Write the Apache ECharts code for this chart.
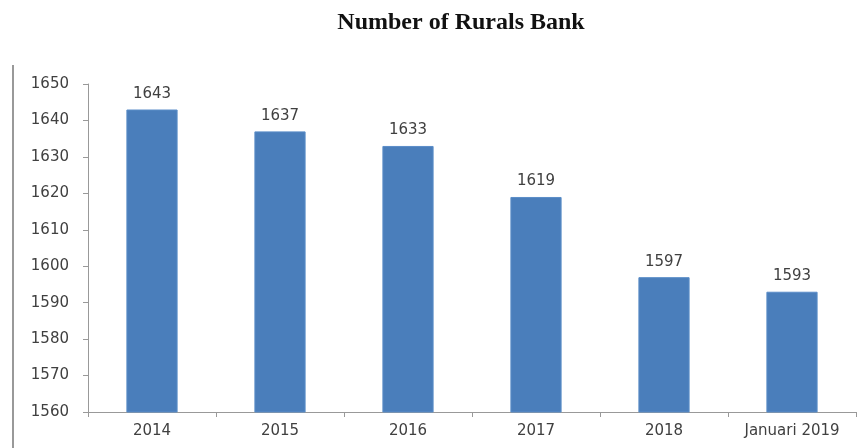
<!DOCTYPE html>
<html>
<head>
<meta charset="utf-8">
<script src="https://cdn.jsdelivr.net/npm/echarts@6/dist/echarts.min.js"></script>
<style>
html,body{margin:0;padding:0;background:#fff;}
#chart{width:865px;height:448px;}
</style>
</head>
<body>
<div id="chart"></div>
<script>
const titleText = 'Number of Rurals Bank';
const categories = ['2014', '2015', '2016', '2017', '2018', 'Januari 2019'];
const banks = [1643, 1637, 1633, 1619, 1597, 1593];
const yMin = 1560, yMax = 1650, yStep = 10;

const chart = echarts.init(document.getElementById('chart'));
chart.setOption({
  backgroundColor: '#ffffff',
  animation: false,
  title: {
    text: titleText,
    left: 456, top: 6, textAlign: 'center',
    textStyle: { fontFamily: 'Liberation Serif', fontWeight: 'bold', fontSize: 24, color: '#111' }
  },
  graphic: [{
    type: 'line',
    shape: { x1: 13, y1: 65, x2: 13, y2: 448 },
    style: { stroke: '#777', lineWidth: 1.5 }
  }],
  grid: { left: 88, right: 9, top: 84, bottom: 36 },
  xAxis: {
    type: 'category',
    data: categories,
    axisLine: { lineStyle: { color: '#999' } },
    axisTick: { show: true, length: 5, interval: 0, lineStyle: { color: '#999' } },
    axisLabel: { interval: 0, fontFamily: 'DejaVu Sans', fontSize: 15, color: '#404040', margin: 12 }
  },
  yAxis: {
    type: 'value',
    min: yMin, max: yMax, interval: yStep,
    splitLine: { show: false },
    axisLine: { show: true, lineStyle: { color: '#999' } },
    axisTick: { show: true, length: 5, lineStyle: { color: '#999' } },
    axisLabel: { fontFamily: 'DejaVu Sans', fontSize: 15, color: '#404040', margin: 19,
      formatter: v => String(v) }
  },
  series: [{
    type: 'bar',
    data: banks,
    barWidth: '40%',
    itemStyle: { color: '#4a7ebb', borderColor: '#5a8dc8', borderWidth: 1 },
    label: {
      show: true, position: 'top', distance: 8,
      fontFamily: 'DejaVu Sans', fontSize: 15, color: '#404040'
    }
  }]
});
</script>
</body>
</html>
